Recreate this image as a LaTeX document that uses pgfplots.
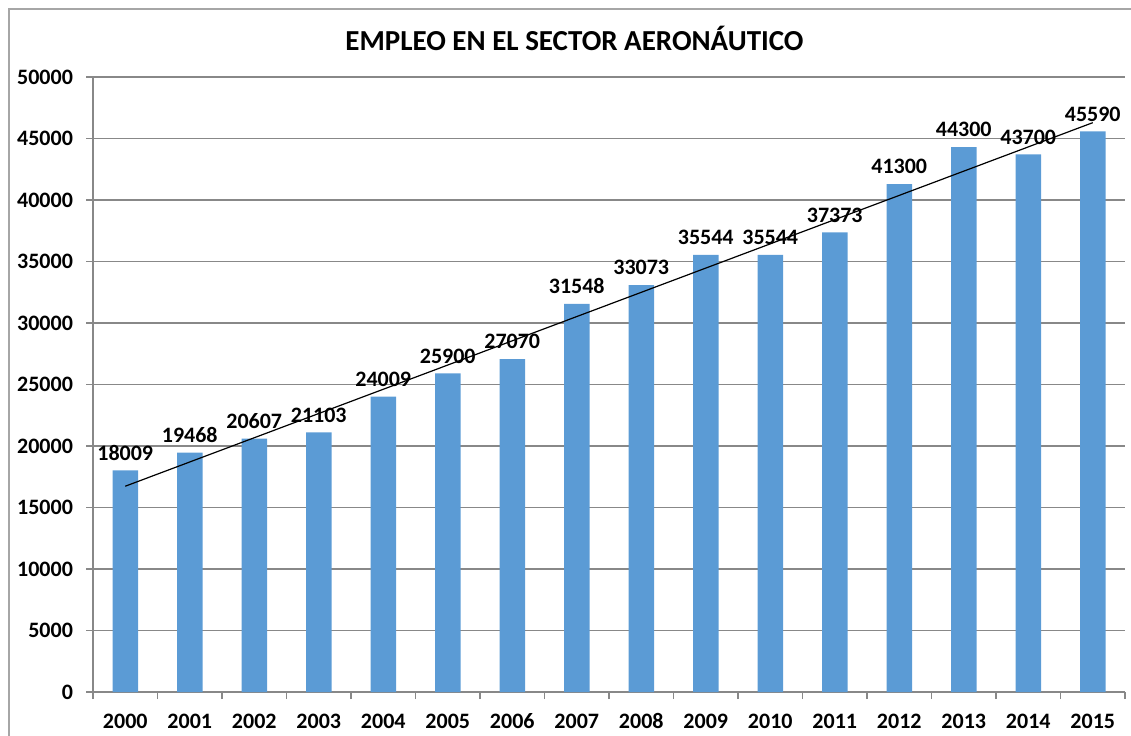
\documentclass[border=0pt]{standalone}
\usepackage{pgfplots}
\usepackage{pgfplotstable}
\pgfplotsset{compat=1.18}
\usepackage{fontspec}
\setmainfont{Carlito}
\definecolor{barblue}{HTML}{5B9BD5}
\definecolor{gridgray}{HTML}{888888}
\definecolor{framegray}{HTML}{A6A6A6}
\pgfplotstableread{
x y
2000 18009
2001 19468
2002 20607
2003 21103
2004 24009
2005 25900
2006 27070
2007 31548
2008 33073
2009 35544
2010 35544
2011 37373
2012 41300
2013 44300
2014 43700
2015 45590
}\data
\begin{document}
\begin{tikzpicture}[x=0.5pt,y=0.5pt]
\path[use as bounding box] (0,0) rectangle (1131,735);
\draw[framegray, line width=1pt] (8.5,-20) -- (8.5,726) -- (1160,726);
\node[font=\bfseries\fontsize{14.5}{16}\selectfont] at (574.5,696.5) {EMPLEO EN EL SECTOR AERONÁUTICO};
\begin{axis}[
  at={(46.5pt,21.5pt)}, anchor=south west,
  width=516pt, height=307.5pt, scale only axis,
  xmin=1999.5, xmax=2015.5,
  ymin=0, ymax=50000,
  ytick={0,5000,...,50000},
  xtick={2000,2001,...,2015},
  minor xtick={1999.5,2000.5,...,2015.5},
  scaled ticks=false,
  /pgf/number format/.cd, 1000 sep={}, assume math mode=true, /pgfplots/.cd,
  axis x line=bottom, axis y line=left,
  axis line style={-, draw=gridgray, line width=0.6pt},
  ymajorgrids, grid style={draw=gridgray, line width=0.6pt},
  tick align=outside,
  major tick length=3.5pt, minor tick length=3.5pt,
  x tick style={draw=none},
  minor x tick style={draw=gridgray, line width=0.6pt},
  y tick style={draw=gridgray, line width=0.6pt},
  ticklabel style={font=\bfseries\fontsize{11}{12}\selectfont, text height=7pt, text depth=0pt},
  yticklabel style={xshift=-3pt},
  xticklabel style={yshift=-4pt},
  clip=false,
]
\addplot[ybar, bar width=12.75pt, fill=barblue, draw=none,
  nodes near coords,
  nodes near coords style={font=\bfseries\fontsize{11}{12}\selectfont, black, /pgf/number format/1000 sep={}, yshift=1.5pt}]
  table[x=x,y=y] {\data};
% least-squares trend line of the 16 values
\addplot[black, line width=0.6pt, mark=none]
  coordinates {(2000,16730.6) (2015,46286.6)};
\end{axis}
\end{tikzpicture}
\end{document}
